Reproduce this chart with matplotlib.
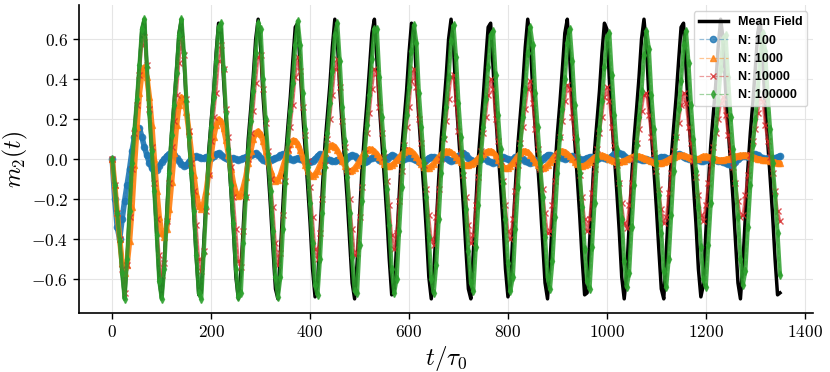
import numpy as np
import matplotlib
matplotlib.use("Agg")
import matplotlib.pyplot as plt

plt.rcParams["mathtext.fontset"] = "cm"

# sample times (t / tau_0), every 5 units
t = np.arange(0, 1351, 5)

# mean field m_2(t)
mean_field = [
    0.00, -0.13, -0.27, -0.41, -0.57, -0.70, -0.50, -0.26, -0.02, 0.15, 0.30, 0.47, 0.65, 0.70, 0.46, 0.23, 0.04, -0.16, -0.38, -0.61,
    -0.70,
    -0.52, -0.28, -0.05, 0.13, 0.28, 0.45, 0.63, 0.70, 0.50, 0.27, 0.09, -0.09, -0.28, -0.50, -0.68,
    -0.67, -0.42, -0.19, 0.04, 0.19, 0.34, 0.53, 0.68, 0.65, 0.40, 0.20, 0.02, -0.16, -0.36, -0.59, -0.70,
    -0.57, -0.33, -0.10, 0.10, 0.25, 0.41, 0.60, 0.70, 0.56, 0.31, 0.13, -0.05, -0.24, -0.45, -0.65,
    -0.70, -0.47, -0.24, 0.00, 0.16, 0.31, 0.49, 0.66, 0.68, 0.45, 0.23, 0.05, -0.13, -0.32, -0.55, -0.69,
    -0.63, -0.37, -0.14, 0.07, 0.22, 0.37, 0.56, 0.70, 0.60, 0.35, 0.16, -0.02, -0.20, -0.41, -0.62, -0.70,
    -0.52, -0.28, -0.05, 0.13, 0.28, 0.45, 0.63, 0.70, 0.50, 0.27, 0.09, -0.09, -0.28, -0.50, -0.68,
    -0.67, -0.42, -0.19, 0.04, 0.19, 0.34, 0.53, 0.68, 0.65, 0.40, 0.20, 0.02, -0.16, -0.36, -0.59, -0.70,
    -0.57, -0.33, -0.10, 0.10, 0.25, 0.41, 0.60, 0.70, 0.56, 0.31, 0.13, -0.05, -0.24, -0.45, -0.65,
    -0.70, -0.47, -0.24, 0.00, 0.16, 0.31, 0.49, 0.66, 0.68, 0.45, 0.23, 0.05, -0.13, -0.32, -0.55, -0.69,
    -0.63, -0.37, -0.14, 0.07, 0.22, 0.37, 0.56, 0.70, 0.60, 0.35, 0.16, -0.02, -0.20, -0.41, -0.62, -0.70,
    -0.52, -0.28, -0.05, 0.13, 0.28, 0.45, 0.63, 0.70, 0.50, 0.27, 0.09, -0.09, -0.28, -0.50, -0.68,
    -0.67, -0.42, -0.19, 0.04, 0.19, 0.34, 0.53, 0.68, 0.65, 0.40, 0.20, 0.02, -0.16, -0.36, -0.59, -0.70,
    -0.57, -0.33, -0.10, 0.10, 0.25, 0.41, 0.60, 0.70, 0.56, 0.31, 0.13, -0.05, -0.24, -0.45, -0.65,
    -0.70, -0.47, -0.24, 0.00, 0.16, 0.31, 0.49, 0.66, 0.68, 0.45, 0.23, 0.05, -0.13, -0.32, -0.55, -0.69,
    -0.63, -0.37, -0.14, 0.07, 0.22, 0.37, 0.56, 0.70, 0.60, 0.35, 0.16, -0.02, -0.20, -0.41, -0.62, -0.70,
    -0.52, -0.28, -0.05, 0.13, 0.28, 0.45, 0.63, 0.70, 0.50, 0.27, 0.09, -0.09, -0.28, -0.50, -0.68,
    -0.67,
]

# N = 100
n100 = [
    0.00, -0.20, -0.34, -0.40, -0.30, -0.21, -0.13, -0.05, 0.04, 0.11, 0.15, 0.155, 0.11, 0.06, 0.02, -0.02, -0.045, -0.06, -0.055, -0.035,
    -0.015, 0.00, 0.015, 0.025, 0.03, 0.02, 0.005, -0.01, -0.025, -0.035, -0.03, -0.015, 0.00, 0.01, 0.013, 0.01, 0.005, 0.005, 0.01, 0.01,
    0.005, 0.015, 0.025, 0.03, 0.02, 0.01, 0.005, 0.00, 0.00, 0.005, 0.0, -0.005, 0.0, 0.005, 0.01, 0.01, 0.02, 0.025, 0.03, 0.02,
    0.005, -0.005, -0.01, -0.01, -0.005, 0.0, 0.005, 0.01, 0.02, 0.025, 0.02, 0.01, 0.0, -0.005, 0.0, 0.005, 0.0, -0.005, -0.01, -0.015,
    -0.015, -0.01, 0.0, 0.015, 0.025, 0.02, 0.01, 0.0, -0.005, -0.01, -0.01, -0.005, -0.005, -0.01, -0.005, 0.005, 0.015, 0.02, 0.015, 0.005,
    -0.005, -0.01, -0.015, -0.01, 0.0, 0.005, 0.01, 0.005, -0.005, -0.01, -0.01, 0.0, 0.01, 0.02, 0.015, 0.005, 0.0, -0.005, 0.0, 0.005,
    0.01, 0.005, 0.0, -0.005, -0.015, -0.02, -0.015, -0.005, 0.005, 0.01, 0.01, 0.005, 0.0, 0.005, 0.01, 0.005, -0.005, -0.01, -0.005, 0.005,
    0.015, 0.025, 0.03, 0.02, 0.005, -0.005, -0.01, -0.01, -0.005, 0.0, 0.005, 0.0, -0.01, -0.015, -0.02, -0.015, -0.005, 0.005, 0.01, 0.005,
    0.0, -0.005, 0.0, 0.01, 0.015, 0.01, 0.0, -0.01, -0.015, -0.02, -0.015, -0.005, -0.01, -0.01, 0.0, 0.01, 0.02, 0.02, 0.015, 0.015,
    0.02, 0.015, 0.005, 0.0, 0.005, 0.01, 0.015, 0.01, 0.005, 0.0, -0.005, 0.0, 0.005, 0.01, 0.01, 0.005, 0.0, 0.005, 0.01, 0.005,
    0.0, 0.005, 0.015, 0.025, 0.03, 0.03, 0.025, 0.015, 0.005, 0.0, 0.005, 0.01, 0.005, 0.0, -0.005, -0.005, 0.0, -0.005, -0.01, -0.005,
    0.0, 0.005, 0.01, 0.01, 0.005, 0.0, 0.005, 0.01, 0.02, 0.025, 0.02, 0.01, 0.005, 0.0, 0.005, 0.005, 0.0, -0.005, -0.01, -0.01,
    -0.005, 0.0, 0.005, 0.0, -0.005, -0.01, -0.01, -0.015, -0.02, -0.025, -0.03, -0.025, -0.015, 0.0, 0.01, 0.015, 0.015, 0.01, 0.015, 0.02,
    0.025, 0.02, 0.01, 0.005, 0.0, 0.005, 0.005, 0.0, 0.005, 0.01, 0.015,
]

# N = 1000
n1000 = [
    0.0, -0.13, -0.27, -0.40, -0.52, -0.57,
    -0.53, -0.41, -0.24, -0.03, 0.16, 0.33, 0.43,
    0.46, 0.41, 0.31, 0.17, 0.00, -0.16, -0.29, -0.37,
    -0.39, -0.35, -0.25, -0.115, 0.03, 0.17, 0.27, 0.31,
    0.295, 0.235, 0.14, 0.03, -0.08, -0.175, -0.235,
    -0.25, -0.22, -0.16, -0.07, 0.02, 0.11, 0.17, 0.20,
    0.19, 0.155, 0.095, 0.02, -0.05, -0.12, -0.165, -0.185,
    -0.18, -0.14, -0.09, -0.02, 0.04, 0.10, 0.13,
    0.14, 0.125, 0.09, 0.04, -0.01, -0.06, -0.095, -0.11,
    -0.105, -0.08, -0.04, 0.0, 0.045, 0.077, 0.093,
    0.092, 0.075, 0.045, 0.009, -0.03, -0.06, -0.08,
    -0.085, -0.077, -0.058, -0.03, -0.001, 0.028, 0.052, 0.066,
    0.07, 0.062, 0.044, 0.019, -0.009, -0.034, -0.052, -0.06,
    -0.057, -0.047, -0.03, -0.009, 0.012, 0.031, 0.044, 0.05,
    0.048, 0.039, 0.025, 0.008, -0.01, -0.024, -0.033,
    -0.035, -0.031, -0.021, -0.007, 0.008, 0.023, 0.036, 0.043,
    0.045, 0.039, 0.027, 0.010, -0.010, -0.027, -0.039, -0.045,
    -0.043, -0.035, -0.023, -0.007, 0.009, 0.023, 0.034, 0.04,
    0.039, 0.033, 0.023, 0.010, -0.003, -0.016, -0.025, -0.03,
    -0.029, -0.025, -0.018, -0.008, 0.004, 0.015, 0.026, 0.034, 0.039,
    0.04, 0.033, 0.018, -0.003, -0.023, -0.038, -0.045,
    -0.043, -0.034, -0.02, -0.003, 0.015, 0.029, 0.038,
    0.04, 0.034, 0.021, 0.003, -0.016, -0.032, -0.042,
    -0.045, -0.04, -0.03, -0.016, 0.001, 0.017, 0.03, 0.038,
    0.04, 0.036, 0.027, 0.014, 0.0, -0.015, -0.026, -0.033,
    -0.035, -0.032, -0.024, -0.013, -0.002, 0.009, 0.017, 0.02,
    0.019, 0.015, 0.009, 0.002, -0.005, -0.011, -0.014,
    -0.015, -0.012, -0.008, -0.002, 0.004, 0.01, 0.014, 0.015,
    0.014, 0.011, 0.006, 0.001, -0.006, -0.011, -0.016, -0.019, -0.02,
    -0.019, -0.015, -0.009, -0.002, 0.005, 0.012, 0.017, 0.02,
    0.02, 0.018, 0.014, 0.01, 0.006, 0.002, 0.0,
    0.001, 0.008, 0.014,
    0.015, 0.012, 0.008, 0.004, -0.001, -0.004, -0.005,
    -0.004, -0.002, 0.001, 0.005, 0.009, 0.013, 0.017, 0.019, 0.02,
    0.02, 0.018, 0.015, 0.011, 0.007, 0.002, -0.001, -0.004, -0.005,
    -0.006, -0.009, -0.013, -0.016, -0.019, -0.02,
]

# N = 10000
n10000 = [
    0.00, -0.13, -0.27, -0.40, -0.55, -0.67, -0.53, -0.29, -0.05, 0.13, 0.27, 0.42, 0.57, 0.61, 0.47, 0.25, 0.06, -0.12, -0.30, -0.48,
    -0.58,
    -0.52, -0.31, -0.12, 0.06, 0.19, 0.32, 0.48, 0.60, 0.52, 0.30, 0.14, -0.02, -0.16, -0.33, -0.50,
    -0.56, -0.46, -0.26, -0.08, 0.09, 0.21, 0.33, 0.49, 0.57, 0.45, 0.25, 0.11, -0.04, -0.19, -0.35, -0.51,
    -0.54, -0.36, -0.19, 0.00, 0.13, 0.24, 0.38, 0.51, 0.52, 0.35, 0.18, 0.04, -0.10, -0.24, -0.42,
    -0.53, -0.47, -0.28, -0.11, 0.05, 0.16, 0.27, 0.41, 0.51, 0.44, 0.26, 0.12, -0.01, -0.14, -0.29, -0.45,
    -0.50, -0.37, -0.20, -0.03, 0.10, 0.20, 0.32, 0.45, 0.50, 0.36, 0.19, 0.06, -0.06, -0.20, -0.35, -0.48,
    -0.47, -0.29, -0.14, 0.03, 0.13, 0.23, 0.35, 0.45, 0.43, 0.26, 0.13, 0.01, -0.11, -0.23, -0.38,
    -0.45, -0.37, -0.21, -0.06, 0.07, 0.16, 0.26, 0.39, 0.45, 0.36, 0.20, 0.08, -0.03, -0.15, -0.28, -0.40,
    -0.43, -0.29, -0.15, 0.00, 0.10, 0.19, 0.30, 0.41, 0.42, 0.28, 0.14, 0.03, -0.08, -0.19, -0.33,
    -0.42, -0.38, -0.23, -0.09, 0.04, 0.13, 0.21, 0.32, 0.40, 0.35, 0.20, 0.09, -0.01, -0.11, -0.23, -0.36,
    -0.40, -0.30, -0.16, -0.03, 0.08, 0.16, 0.25, 0.35, 0.39, 0.28, 0.15, 0.05, -0.05, -0.15, -0.27, -0.37,
    -0.36, -0.23, -0.11, 0.02, 0.11, 0.19, 0.29, 0.37, 0.35, 0.21, 0.11, 0.01, -0.08, -0.19, -0.30,
    -0.36, -0.30, -0.17, -0.05, 0.05, 0.13, 0.21, 0.31, 0.36, 0.29, 0.16, 0.07, -0.03, -0.12, -0.22, -0.32,
    -0.345, -0.23, -0.12, 0.00, 0.08, 0.15, 0.24, 0.32, 0.33, 0.22, 0.11, 0.03, -0.06, -0.15, -0.25,
    -0.32, -0.29, -0.17, -0.07, 0.04, 0.11, 0.18, 0.27, 0.33, 0.28, 0.16, 0.08, -0.01, -0.09, -0.18, -0.28,
    -0.31, -0.23, -0.12, -0.02, 0.06, 0.13, 0.20, 0.28, 0.31, 0.22, 0.12, 0.04, -0.04, -0.12, -0.21, -0.29,
    -0.28, -0.18, -0.08, 0.02, 0.09, 0.15, 0.23, 0.30, 0.29, 0.17, 0.09, 0.01, -0.07, -0.16, -0.26,
    -0.31,
]

# N = 100000
n100000 = [
    0.00, -0.13, -0.27, -0.41, -0.57, -0.70, -0.50, -0.26, -0.02, 0.15, 0.30, 0.47, 0.65, 0.70, 0.46, 0.23, 0.04, -0.16, -0.38, -0.61,
    -0.70,
    -0.55, -0.31, -0.07, 0.12, 0.27, 0.43, 0.62, 0.70, 0.53, 0.29, 0.11, -0.07, -0.26, -0.48, -0.67,
    -0.70, -0.47, -0.24, 0.00, 0.16, 0.31, 0.49, 0.66, 0.68, 0.45, 0.23, 0.05, -0.13, -0.32, -0.55, -0.69,
    -0.67, -0.42, -0.19, 0.04, 0.19, 0.34, 0.53, 0.68, 0.65, 0.40, 0.20, 0.02, -0.16, -0.36, -0.59,
    -0.69, -0.59, -0.35, -0.12, 0.09, 0.24, 0.38, 0.57, 0.69, 0.57, 0.33, 0.15, -0.04, -0.22, -0.42, -0.63,
    -0.68, -0.50, -0.27, -0.04, 0.13, 0.28, 0.44, 0.62, 0.68, 0.49, 0.26, 0.09, -0.09, -0.27, -0.49, -0.66,
    -0.67, -0.43, -0.21, 0.02, 0.17, 0.32, 0.50, 0.65, 0.65, 0.41, 0.21, 0.04, -0.15, -0.33, -0.55,
    -0.67, -0.60, -0.36, -0.14, 0.07, 0.22, 0.36, 0.54, 0.67, 0.58, 0.33, 0.16, -0.02, -0.19, -0.39, -0.60,
    -0.67, -0.53, -0.30, -0.07, 0.11, 0.26, 0.41, 0.59, 0.67, 0.51, 0.28, 0.11, -0.07, -0.25, -0.46,
    -0.62, -0.66, -0.44, -0.23, 0.00, 0.16, 0.30, 0.46, 0.62, 0.64, 0.42, 0.22, 0.05, -0.12, -0.30, -0.52,
    -0.66, -0.59, -0.35, -0.14, 0.07, 0.21, 0.35, 0.53, 0.66, 0.57, 0.33, 0.16, -0.02, -0.19, -0.39, -0.59,
    -0.65, -0.51, -0.29, -0.07, 0.11, 0.25, 0.40, 0.58, 0.65, 0.49, 0.27, 0.10, -0.07, -0.24, -0.45,
    -0.61, -0.65, -0.44, -0.22, 0.00, 0.15, 0.29, 0.46, 0.61, 0.63, 0.42, 0.22, 0.05, -0.12, -0.30, -0.51,
    -0.64, -0.57, -0.34, -0.13, 0.07, 0.21, 0.34, 0.52, 0.64, 0.55, 0.32, 0.15, -0.02, -0.18, -0.37,
    -0.56, -0.64, -0.50, -0.28, -0.06, 0.11, 0.25, 0.39, 0.57, 0.64, 0.48, 0.27, 0.10, -0.06, -0.24, -0.44,
    -0.60, -0.64, -0.43, -0.22, 0.00, 0.15, 0.29, 0.45, 0.60, 0.62, 0.41, 0.21, 0.05, -0.12, -0.29, -0.50,
    -0.63, -0.56, -0.34, -0.13, 0.07, 0.20, 0.34, 0.51, 0.63, 0.54, 0.32, 0.15, -0.02, -0.18, -0.37,
    -0.58,
]

labels = ["N: 100", "N: 1000", "N: 10000", "N: 100000"]
series = [n100, n1000, n10000, n100000]
colors = ["#1f77b4", "#ff7f0e", "#d62728", "#2ca02c"]
markers = ["o", "^", "x", "d"]

xticks = [0, 200, 400, 600, 800, 1000, 1200, 1400]
yticks = [-0.6, -0.4, -0.2, 0.0, 0.2, 0.4, 0.6]

lengths = [len(s) for s in [mean_field] + series]
assert all(n == len(t) for n in lengths), (len(t), lengths)

fig, ax = plt.subplots(figsize=(8.3, 3.72), dpi=100)
fig.subplots_adjust(left=0.095, right=0.98, bottom=0.159, top=0.986)

ax.plot(t, mean_field, color="black", lw=2.5, label="Mean Field", zorder=2)

# thick band under each run, like the dense markers in the original
band_width = [4.0, 4.0, 2.0, 3.0]
band_alpha = [0.9, 0.9, 0.6, 0.85]
marker_size = [4.5, 4.5, 4.5, 4.0]
for i, (vals, lab, col, mk) in enumerate(zip(series, labels, colors, markers)):
    ax.plot(t, vals, color=col, lw=band_width[i], alpha=band_alpha[i],
            solid_capstyle="round", zorder=3 + i)
    rgb = matplotlib.colors.to_rgb(col)
    ax.plot(t, vals, ls="--", lw=0.9, color=(*rgb, 0.45), marker=mk,
            ms=marker_size[i], mfc=(*rgb, 0.8), mec=(*rgb, 0.8),
            mew=1.0, label=lab, zorder=3 + i)

ax.set_xlim(-67.5, 1417.5)
ax.set_ylim(-0.77, 0.77)
ax.set_xticks(xticks)
ax.set_xticklabels([f"${v}$" for v in xticks], fontsize=12.5)
ax.set_yticks(yticks)
ax.set_yticklabels([f"${v:.1f}$" for v in yticks], fontsize=12.5)

ax.set_xlabel(r"$t/\tau_0$", fontsize=18, labelpad=2)
ax.set_ylabel(r"$m_2(t)$", fontsize=17, labelpad=1)

ax.grid(True, color="#e5e5e5", lw=0.8)
ax.set_axisbelow(True)
for side in ["top", "right"]:
    ax.spines[side].set_visible(False)
for side in ["left", "bottom"]:
    ax.spines[side].set_linewidth(1.2)
ax.tick_params(direction="out", length=4, width=1)

leg = ax.legend(loc="upper right", handlelength=2.3,
                prop={"family": "Liberation Sans", "weight": "bold", "size": 9},
                borderaxespad=0.5, framealpha=0.8)
leg.set_zorder(20)

fig.savefig("out.png", dpi=100)
